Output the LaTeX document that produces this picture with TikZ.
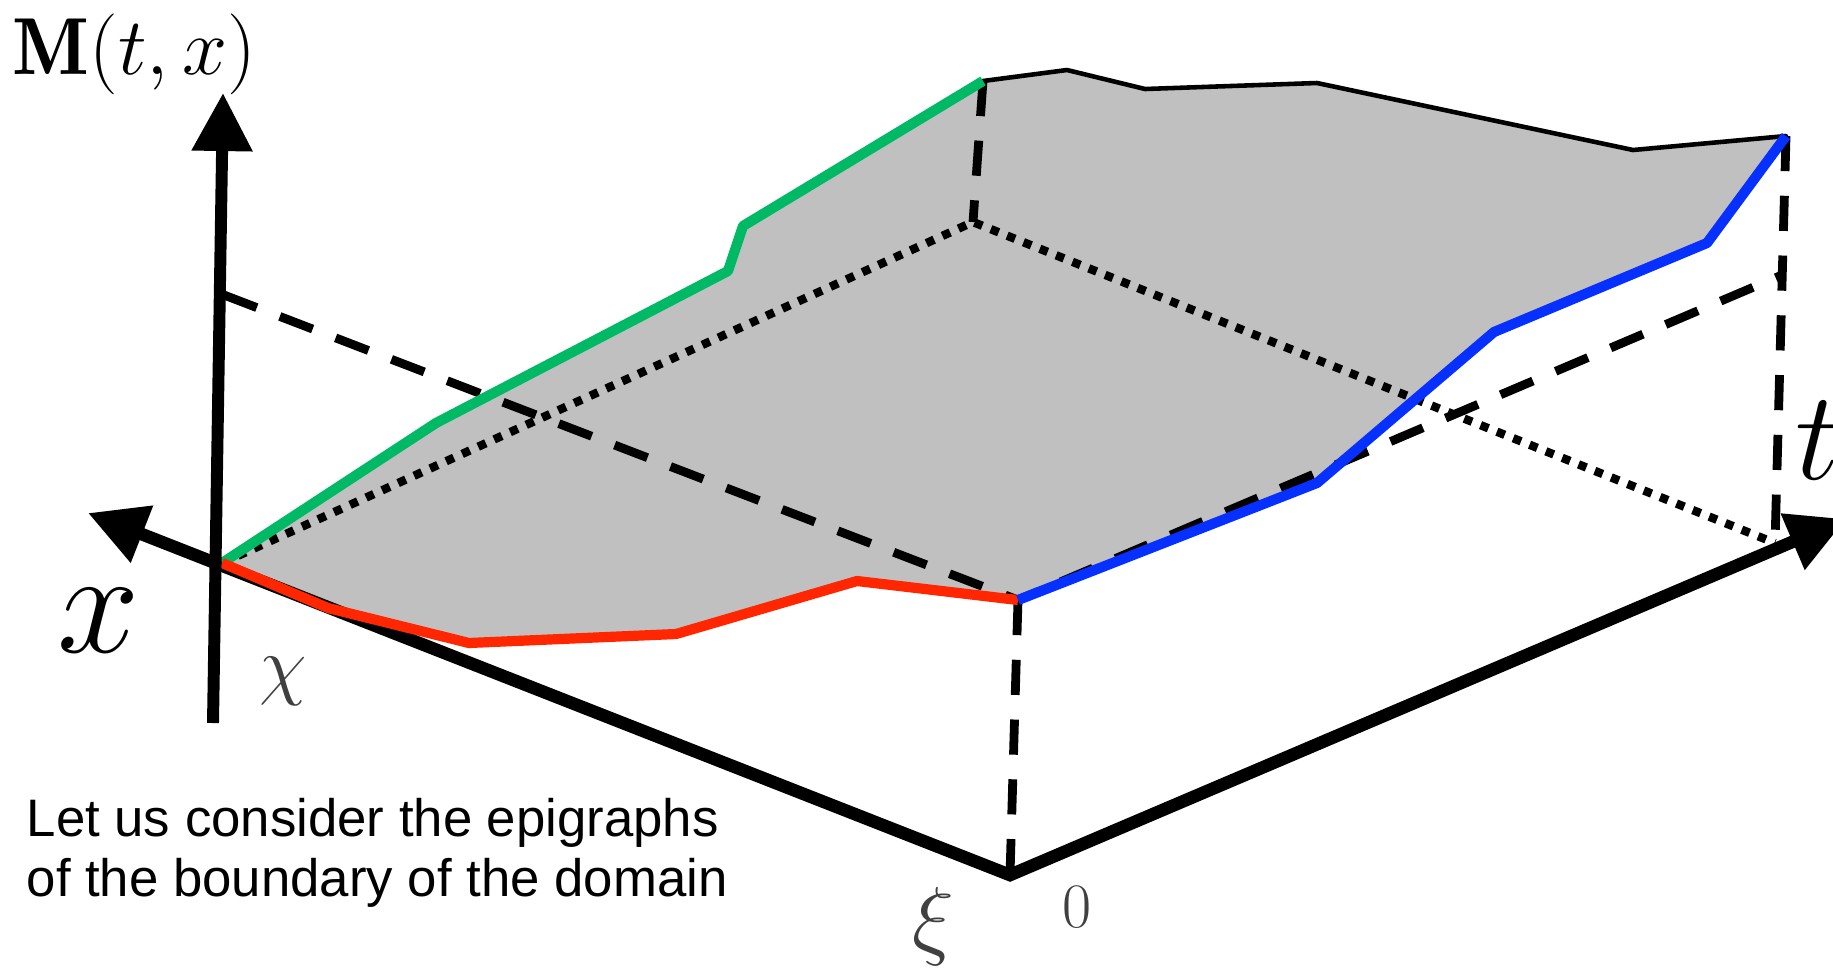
\RequirePackage{fix-cm}
\documentclass[tikz,border=0pt]{standalone}
\usepackage{amsmath}
\usepackage{fontspec}
\newfontfamily\notefont{Liberation Sans}
\usetikzlibrary{arrows.meta}
\definecolor{surfgray}{RGB}{192,192,192}
\definecolor{bdgreen}{RGB}{0,185,100}
\definecolor{bdred}{RGB}{255,38,0}
\definecolor{bdblue}{RGB}{5,48,255}

\begin{document}
\begin{tikzpicture}[x=0.01cm, y=-0.01cm,
  axis/.style={line width=3.6pt, line join=miter, {Triangle[length=5.8mm,width=5.8mm]}-{Triangle[length=5.8mm,width=5.8mm]}},
  vaxis/.style={line width=3.4pt, -{Triangle[length=5.8mm,width=5.8mm]}},
  guide/.style={line width=2.5pt, dash pattern=on 10pt off 7pt},
  floor/.style={line width=2.4pt, dash pattern=on 2.4pt off 2.6pt},
  edge/.style={line width=2.9pt, line join=round},
  lbl/.style={inner sep=0pt, text=black!75}]
  \useasboundingbox (0,0) rectangle (1833,969);
  % domain corners
  \coordinate (O) at (222,563);
  \coordinate (X0) at (1010,875);
  \coordinate (XT) at (1775,543);
  \coordinate (CT) at (973,222);
  % surface heights
  \coordinate (A) at (1018,600);
  \coordinate (B) at (983,81);
  \coordinate (C) at (1786,136);
  \coordinate (D) at (1782,275);
  \coordinate (P) at (224,295);
  % axis ends
  \coordinate (xtip) at (88,513);
  \coordinate (ttip) at (1846,519);
  \coordinate (mbot) at (213,723);
  \coordinate (mtip) at (223,93);

  \fill[surfgray, draw=black, line width=1.3pt, line join=round] (O) -- (436,423) -- (728,271) -- (743,226) -- (B)
    -- (1067,70) -- (1145,89) -- (1317,83) -- (1633,150) -- (C)
    -- (1707,243) -- (1494,332) -- (1317,483) -- (A)
    -- (857,581) -- (676,634) -- (469,643) -- (328,608) -- cycle;

  \draw[axis] (xtip) -- (X0) -- (ttip);

  \draw[floor] (O) -- (CT) -- (XT);
  \draw[guide] (P) -- (A) -- (D);
  \foreach \a/\b in {B/CT,C/XT,A/X0}{\draw[guide] (\a) -- (\b);}

  \draw[edge, bdgreen] (O) -- (436,423) -- (728,271) -- (743,226) -- (B);
  \draw[edge, bdred] (O) -- (328,608) -- (469,643) -- (676,634) -- (857,581) -- (A);
  \draw[edge, bdblue] (A) -- (1317,483) -- (1494,332) -- (1707,243) -- (C);

  \draw[vaxis] (mbot) -- (mtip);

  \node[anchor=base west, inner sep=0pt] (mlab) at (12,74) {\fontsize{23}{26}\selectfont$\mathbf{M}(t,x)$};
  \node[inner sep=0pt] (xlab) at (99,621) {\fontsize{42}{46}\selectfont$x$};
  \node[anchor=base west, inner sep=0pt] (tlab) at (1795,479) {\fontsize{36}{40}\selectfont$t$};
  \node[lbl] (chilab) at (283,681) {\fontsize{22}{24}\selectfont$\chi$};
  \node[lbl] (xilab) at (933,927) {\fontsize{25}{28}\selectfont$\xi$};
  \node[lbl] (zerolab) at (1077,907) {\fontsize{18}{20}\selectfont$0$};
  \node[anchor=north west, inner sep=0pt, align=left, font=\notefont\fontsize{15}{17}\selectfont] (note) at (26,798)
    {Let us consider the epigraphs\\of the boundary of the domain};
\end{tikzpicture}
\end{document}
